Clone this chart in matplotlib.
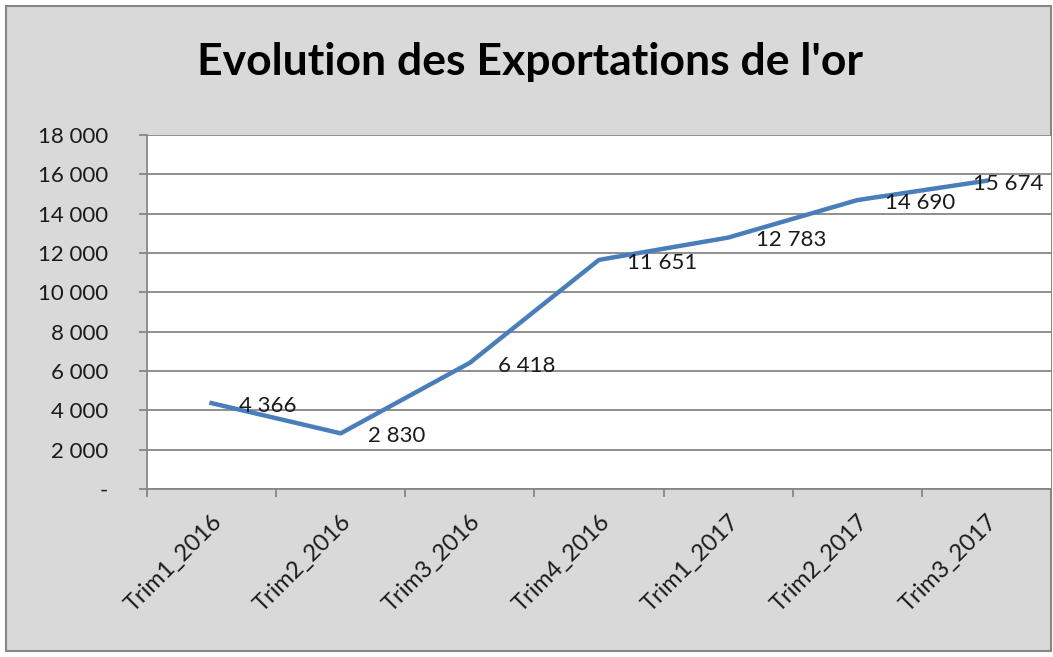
import matplotlib.pyplot as plt
from matplotlib.ticker import FuncFormatter, FixedLocator
from matplotlib.patches import Rectangle

# data
trimestres = ["Trim1_2016", "Trim2_2016", "Trim3_2016", "Trim4_2016",
              "Trim1_2017", "Trim2_2017", "Trim3_2017"]
exportations = [4366, 2830, 6418, 11651, 12783, 14690, 15674]
y_ticks = list(range(0, 18001, 2000))

plt.rcParams["font.family"] = ["Lato", "DejaVu Sans"]

bg = "#d9d9d9"
grid_col = "#868686"
line_col = "#4a7ebb"

def fmt_fr(v, pos=None):
    if v == 0:
        return "-"
    return f"{int(v):,}".replace(",", " ")

fig = plt.figure(figsize=(10.53, 6.57), dpi=100)
fig.patch.set_facecolor("white")
# outer frame of the chart
fig.patches.append(Rectangle((6 / 1053, 6 / 657), 1045 / 1053, 645 / 657,
                             transform=fig.transFigure, facecolor=bg,
                             edgecolor=grid_col, linewidth=1.5, zorder=-10))

ax = fig.add_axes([147 / 1053, 1 - 489 / 657, 904 / 1053, 354 / 657])
ax.set_facecolor("white")

x = list(range(len(trimestres)))
ax.plot(x, exportations, color=line_col, linewidth=3.2, solid_joinstyle="round", zorder=3)
for xi, v in zip(x, exportations):
    # last label is pushed back inside the chart, like Excel does
    dx = 20 if xi < len(x) - 1 else -10
    ax.annotate(fmt_fr(v), (xi, v), xytext=(dx, -2), textcoords="offset points",
                ha="left", va="center", fontsize=16, color="#1a1a1a", zorder=4,
                annotation_clip=False)

ax.set_xlim(-0.5, len(trimestres) - 0.5)
ax.set_ylim(0, 18000)
ax.yaxis.set_major_locator(FixedLocator(y_ticks))
ax.yaxis.set_major_formatter(FuncFormatter(fmt_fr))
ax.grid(axis="y", color=grid_col, linewidth=1.3)
ax.set_axisbelow(True)

ax.set_xticks([i - 0.5 for i in range(len(trimestres) + 1)])
ax.set_xticklabels([])
ax.set_xticks(x, minor=True)
ax.set_xticklabels(trimestres, minor=True, rotation=45, ha="right",
                   rotation_mode="anchor", fontsize=17, color="#1a1a1a")
ax.tick_params(axis="x", which="minor", length=0, pad=16)
ax.tick_params(axis="x", which="major", length=6, width=1.3, color=grid_col)
ax.tick_params(axis="y", length=6, width=1.3, color=grid_col, labelsize=16,
               labelcolor="#1a1a1a", pad=22)

for side in ["top", "right"]:
    ax.spines[side].set_visible(False)
for side in ["left", "bottom"]:
    ax.spines[side].set_color(grid_col)
    ax.spines[side].set_linewidth(1.3)

fig.text(530 / 1053, 1 - 62 / 657, "Evolution des Exportations de l'or",
         ha="center", va="center", fontsize=32, fontweight="bold", color="black")

fig.savefig("out.png", dpi=100, facecolor=fig.get_facecolor())
